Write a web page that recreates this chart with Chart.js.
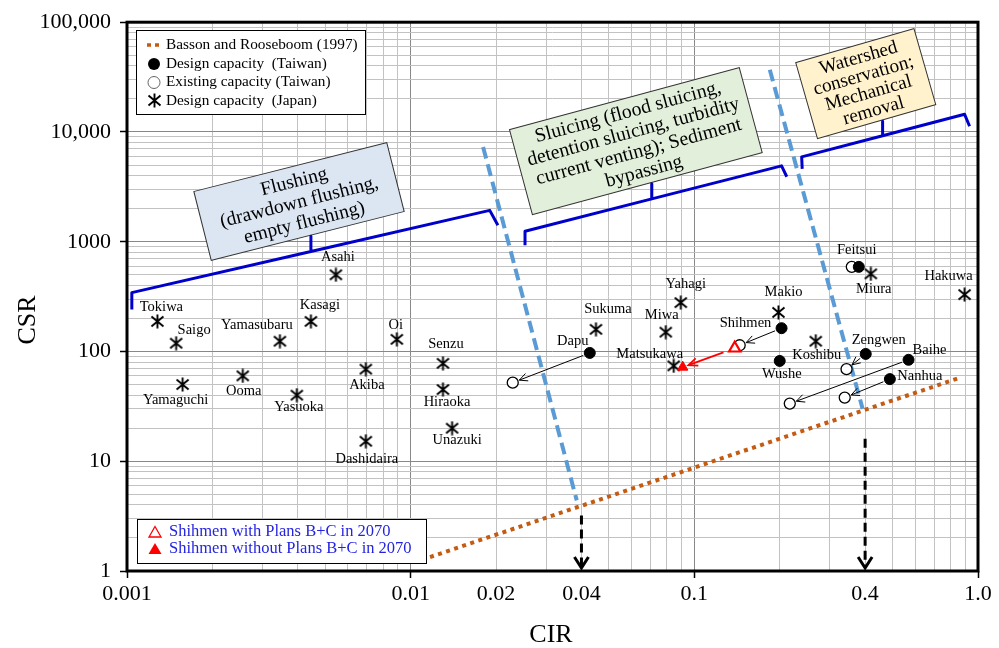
<!DOCTYPE html>
<html>
<head>
<meta charset="utf-8">
<script src="https://cdn.jsdelivr.net/npm/chart.js@4.4.0/dist/chart.umd.min.js"></script>
<style>
  body{margin:0;background:#fff}
</style>
</head>
<body>
<canvas id="c" width="999" height="648"></canvas>
<script>
// ---- data ----
const jpNames = ['Tokiwa','Saigo','Yamaguchi','Ooma','Yamasubaru','Yasuoka','Kasagi','Asahi','Akiba','Dashidaira','Oi','Senzu','Hiraoka','Unazuki','Sukuma','Miwa','Yahagi','Matsukawa','Makio','Koshibu','Miura','Hakuwa'];
const jpCIR = [0.00128,0.00149,0.00157,0.00256,0.00346,0.00397,0.00445,0.00545,0.00695,0.00695,0.00894,0.0130,0.0130,0.0140,0.0450,0.0793,0.0896,0.0846,0.198,0.268,0.419,0.897];
const jpCSR = [188,119,50,60,124,40,188,500,69,15.2,129,78,45,20,159,150,279,74,227,124,510,330];

const twNames = ['Dapu','Shihmen','Wushe','Feitsui','Zengwen','Baihe','Nanhua'];
const twDesignCIR = [0.0428,0.203,0.200,0.380,0.402,0.569,0.489];
const twDesignCSR = [97,163,82,590,95,84,56];
const twExistCIR = [0.0229,0.1445,null,0.359,0.344,0.217,0.339];
const twExistCSR = [52,114,null,590,69,33.5,38];

const shihmen2070CIR = [0.1388,0.091];   // with plans B+C, without plans B+C
const shihmen2070CSR = [107,72];

const bassonCIR = [0.0117,0.86];
const bassonCSR = [1.34,57.5];
const bound1CIR = [0.0180,0.0385];
const bound1CSR = [7300,4.4];
const bound2CIR = [0.1845,0.392];
const bound2CSR = [36900,30];
const cutCIR = [0.04,0.4];
const cutTopCSR = [3.2,16];

const bracketFlushCIR = [0.00104,0.00104,0.00445,0.00445,0.00445,0.0190,0.0203];
const bracketFlushCSR = [241,344,815,1124,815,1930,1413];
const bracketSluiceCIR = [0.0253,0.0253,0.0708,0.0708,0.0708,0.203,0.2118];
const bracketSluiceCSR = [930,1247,2455,3380,2455,4910,3908];
const bracketShedCIR = [0.240,0.239,0.461,0.461,0.461,0.897,0.934];
const bracketShedCSR = [4615,5925,9245,12520,9245,14480,11280];

const xTickLabels = ['0.001','0.01','0.02','0.04','0.1','0.4','1.0'];
const yTickLabels = ['1','10','100','1000','10,000','100,000'];

// ---- styling / placement ----
const SERIF = '"Liberation Serif","Times New Roman",serif';
const labelOffsets = {
  Tokiwa:[4,-14], Saigo:[18,-13], Yamaguchi:[-7,16], Ooma:[1,15], Yamasubaru:[-23,-16], Yasuoka:[2,12],
  Kasagi:[9,-16], Asahi:[2,-18], Akiba:[1,16], Dashidaira:[1,18], Oi:[-1,-14], Senzu:[3,-19],
  Hiraoka:[4,13], Unazuki:[5,12], Sukuma:[12,-20], Miwa:[-4,-17], Yahagi:[5,-18], Matsukawa:[-24,-12],
  Makio:[5,-20], Koshibu:[1,14], Miura:[3,15], Hakuwa:[-16,-18],
  Dapu:[-17,-12], Shihmen:[-36,-5], Wushe:[2,13], Feitsui:[-2,-17], Zengwen:[13,-14], Baihe:[21,-10], Nanhua:[30,-3]
};
const boxes = [
  {cir:0.00404, csr:2325, w:199, h:71, ang:-14.2, fill:'#DCE6F2', lh:21, font:19.5, lines:['Flushing','(drawdown flushing,','empty flushing)']},
  {cir:0.0622, csr:8260, w:238, h:88, ang:-15.1, fill:'#E2EFDA', lh:20.5, font:19.8, lines:['Sluicing (flood sluicing,','detention sluicing, turbidity','current venting); Sediment','bypassing']},
  {cir:0.402, csr:27560, w:123, h:79, ang:-16, fill:'#FFF2CC', lh:18.3, font:19.2, lines:['Watershed','conservation;','Mechanical','removal']}
];

const pts = (xs, ys) => xs.map((x,i)=>({x:x, y:ys[i]})).filter(p=>p.x!=null);
const isDecade = v => Math.abs(Math.log10(v) - Math.round(Math.log10(v))) < 1e-6;
const findLabel = (v, list) => list.find(l => Math.abs(Math.log10(parseFloat(l.replace(/,/g,''))) - Math.log10(v)) < 1e-6) || '';
function logTicks(lo, hi){
  const t=[];
  for(let e=lo;e<hi;e++) for(let m=1;m<10;m++) t.push({value:Number((m*Math.pow(10,e)).toPrecision(3))});
  t.push({value:Math.pow(10,hi)});
  return t;
}

// asterisk marker (X with a vertical bar)
const star = document.createElement('canvas');
star.width=15; star.height=15;
(function(){
  const g=star.getContext('2d'); g.strokeStyle='#000'; g.lineWidth=1.9;
  g.beginPath();
  g.moveTo(7.5,0.5); g.lineTo(7.5,14.5);
  g.moveTo(1.5,2.5); g.lineTo(13.5,12.5);
  g.moveTo(1.5,12.5); g.lineTo(13.5,2.5);
  g.stroke();
})();

function arrow(ctx,x1,y1,x2,y2,color,lw,head,ang){
  ctx.save(); ctx.strokeStyle=color; ctx.lineWidth=lw; ctx.setLineDash([]);
  ctx.beginPath(); ctx.moveTo(x1,y1); ctx.lineTo(x2,y2); ctx.stroke();
  const a=Math.atan2(y2-y1,x2-x1);
  ctx.beginPath();
  ctx.moveTo(x2-head*Math.cos(a-ang), y2-head*Math.sin(a-ang));
  ctx.lineTo(x2,y2);
  ctx.lineTo(x2-head*Math.cos(a+ang), y2-head*Math.sin(a+ang));
  ctx.stroke(); ctx.restore();
}
function shorten(p1,p2,a,b){
  const dx=p2.x-p1.x, dy=p2.y-p1.y, d=Math.hypot(dx,dy);
  return [p1.x+dx/d*a, p1.y+dy/d*a, p2.x-dx/d*b, p2.y-dy/d*b, d];
}

const decor = {
  id:'decor',
  beforeDatasetsDraw(chart){
    const ctx=chart.ctx, xs=chart.scales.x, ys=chart.scales.y;
    boxes.forEach(b=>{
      const cx=xs.getPixelForValue(b.cir), cy=ys.getPixelForValue(b.csr);
      ctx.save(); ctx.translate(cx,cy); ctx.rotate(b.ang*Math.PI/180);
      ctx.fillStyle=b.fill; ctx.fillRect(-b.w/2,-b.h/2,b.w,b.h);
      ctx.strokeStyle='#333'; ctx.lineWidth=1; ctx.strokeRect(-b.w/2,-b.h/2,b.w,b.h);
      ctx.fillStyle='#000'; ctx.font=b.font+'px '+SERIF; ctx.textAlign='center'; ctx.textBaseline='middle';
      b.lines.forEach((t,i)=>ctx.fillText(t,0,(i-(b.lines.length-1)/2)*b.lh+1));
      ctx.restore();
    });
  },
  afterDatasetsDraw(chart){
    const ctx=chart.ctx, xs=chart.scales.x, ys=chart.scales.y, ca=chart.chartArea;
    const px=(x,y)=>({x:xs.getPixelForValue(x), y:ys.getPixelForValue(y)});

    // design -> existing arrows
    twNames.forEach((n,i)=>{
      if(twExistCIR[i]==null) return;
      const s=shorten(px(twDesignCIR[i],twDesignCSR[i]), px(twExistCIR[i],twExistCSR[i]), 7, 7);
      if(s[4]<18) return;
      arrow(ctx,s[0],s[1],s[2],s[3],'#000',1,9,0.45);
    });
    // Shihmen 2070 arrow
    const r=shorten(px(shihmen2070CIR[0],shihmen2070CSR[0]), px(shihmen2070CIR[1],shihmen2070CSR[1]), 12, 6);
    arrow(ctx,r[0],r[1],r[2],r[3],'#FF0000',1.8,10,0.4);

    // cutoff arrows
    cutCIR.forEach((c,i)=>{
      const x=xs.getPixelForValue(c), y0=ys.getPixelForValue(cutTopCSR[i]), y1=ca.bottom-3;
      ctx.save(); ctx.strokeStyle='#000'; ctx.lineWidth=3;
      ctx.setLineDash([9,5]); ctx.beginPath(); ctx.moveTo(x,y0); ctx.lineTo(x,y1-2); ctx.stroke();
      ctx.setLineDash([]); ctx.beginPath();
      ctx.moveTo(x-7,y1-11); ctx.lineTo(x,y1); ctx.lineTo(x+7,y1-11); ctx.stroke();
      ctx.restore();
    });

    // station labels
    ctx.save(); ctx.fillStyle='#000'; ctx.font='14.5px '+SERIF; ctx.textAlign='center'; ctx.textBaseline='middle';
    jpNames.forEach((n,i)=>{ const p=px(jpCIR[i],jpCSR[i]), o=labelOffsets[n]; ctx.fillText(n,p.x+o[0],p.y+o[1]); });
    twNames.forEach((n,i)=>{ const p=px(twDesignCIR[i],twDesignCSR[i]), o=labelOffsets[n]; ctx.fillText(n,p.x+o[0],p.y+o[1]); });
    ctx.restore();

    // upper legend
    const ds=chart.data.datasets;
    ctx.save();
    ctx.fillStyle='#fff'; ctx.fillRect(136.5,30.5,229,84);
    ctx.strokeStyle='#000'; ctx.lineWidth=1; ctx.strokeRect(136.5,30.5,229,84);
    ctx.strokeStyle='#C55A11'; ctx.lineWidth=3.5; ctx.setLineDash([4,4]);
    ctx.beginPath(); ctx.moveTo(147,45); ctx.lineTo(161,45); ctx.stroke(); ctx.setLineDash([]);
    ctx.fillStyle='#000'; ctx.beginPath(); ctx.arc(154,64,6,0,Math.PI*2); ctx.fill();
    ctx.strokeStyle='#666'; ctx.lineWidth=1; ctx.beginPath(); ctx.arc(154,82.5,6,0,Math.PI*2); ctx.stroke();
    ctx.drawImage(star,147,93);
    ctx.font='15.3px '+SERIF; ctx.textBaseline='middle'; ctx.textAlign='left'; ctx.fillStyle='#000';
    ['basson','design','exist','japan'].forEach((k,i)=>{
      const d=ds.find(x=>x.key===k); ctx.fillText(d.label,166,45+i*18.7);
    });
    // lower legend
    ctx.fillStyle='#fff'; ctx.fillRect(137.5,519.5,289,44);
    ctx.strokeStyle='#000'; ctx.strokeRect(137.5,519.5,289,44);
    ctx.strokeStyle='#FF0000'; ctx.lineWidth=1.3;
    ctx.beginPath(); ctx.moveTo(155,526.5); ctx.lineTo(161,537); ctx.lineTo(149,537); ctx.closePath(); ctx.stroke();
    ctx.fillStyle='#FF0000';
    ctx.beginPath(); ctx.moveTo(155,543); ctx.lineTo(161.5,554); ctx.lineTo(148.5,554); ctx.closePath(); ctx.fill();
    ctx.fillStyle='#2424E0'; ctx.font='16.5px '+SERIF;
    ['with2070','without2070'].forEach((k,i)=>{
      const d=ds.find(x=>x.key===k); ctx.fillText(d.label,169,532+i*17);
    });
    ctx.restore();
  },
  afterDraw(chart){
    const ctx=chart.ctx, ca=chart.chartArea;
    ctx.save();
    ctx.strokeStyle='#000'; ctx.lineWidth=3;
    ctx.strokeRect(ca.left,ca.top,ca.right-ca.left,ca.bottom-ca.top);
    ctx.fillStyle='#000'; ctx.font='26px '+SERIF; ctx.textAlign='center'; ctx.textBaseline='middle';
    ctx.fillText('CIR',551,635);
    ctx.translate(28,320); ctx.rotate(-Math.PI/2); ctx.fillText('CSR',0,0);
    ctx.restore();
  }
};

const lineDs = (key,label,xs,ys,color,width,dash,order) => ({
  key, label, data:pts(xs,ys), showLine:true, borderColor:color, borderWidth:width, borderDash:dash,
  pointRadius:0, fill:false, order, borderJoinStyle:'round', borderCapStyle:'butt'
});

new Chart(document.getElementById('c'), {
  type:'scatter',
  data:{datasets:[
    {key:'with2070', label:'Shihmen with Plans B+C in 2070', data:[{x:shihmen2070CIR[0],y:shihmen2070CSR[0]}],
      pointStyle:'triangle', pointRadius:6.5, backgroundColor:'#fff', borderColor:'#FF0000', borderWidth:2.2, order:1},
    {key:'without2070', label:'Shihmen without Plans B+C in 2070', data:[{x:shihmen2070CIR[1],y:shihmen2070CSR[1]}],
      pointStyle:'triangle', pointRadius:6, backgroundColor:'#FF0000', borderColor:'#FF0000', borderWidth:1, order:1},
    {key:'design', label:'Design capacity  (Taiwan)', data:pts(twDesignCIR,twDesignCSR),
      pointRadius:5.5, backgroundColor:'#000', borderColor:'#000', borderWidth:1, order:2},
    {key:'exist', label:'Existing capacity (Taiwan)', data:pts(twExistCIR,twExistCSR),
      pointRadius:5.5, backgroundColor:'#fff', borderColor:'#000', borderWidth:1.3, order:3},
    {key:'japan', label:'Design capacity  (Japan)', data:pts(jpCIR,jpCSR),
      pointStyle:star, order:2},
    lineDs('basson','Basson and Rooseboom (1997)',bassonCIR,bassonCSR,'#C55A11',4,[4,4.5],5),
    lineDs('bound1','',bound1CIR,bound1CSR,'#5B9BD5',4,[12,6],6),
    lineDs('bound2','',bound2CIR,bound2CSR,'#5B9BD5',4,[12,6],6),
    lineDs('brFlush','',bracketFlushCIR,bracketFlushCSR,'#0000CC',3,[],7),
    lineDs('brSluice','',bracketSluiceCIR,bracketSluiceCSR,'#0000CC',3,[],7),
    lineDs('brShed','',bracketShedCIR,bracketShedCSR,'#0000CC',3,[],7)
  ]},
  options:{
    responsive:false, animation:false, devicePixelRatio:1,
    layout:{padding:{left:0,right:21,top:17,bottom:0}},
    plugins:{legend:{display:false}, tooltip:{enabled:false}},
    scales:{
      x:{
        type:'logarithmic', min:0.001, max:1,
        afterBuildTicks:s=>{ s.ticks=logTicks(-3,0); },
        afterFit:s=>{ s.height=77; },
        border:{display:false},
        grid:{
          color:c=>isDecade(c.tick.value)?'#888':'#c2c2c2', lineWidth:1,
          tickLength:7, tickColor:c=>isDecade(c.tick.value)?'#000':'rgba(0,0,0,0)', tickWidth:1.5
        },
        ticks:{autoSkip:false, maxRotation:0, padding:3, color:'#000', font:{family:SERIF,size:22},
          callback:v=>findLabel(v,xTickLabels)}
      },
      y:{
        type:'logarithmic', min:1, max:100000,
        afterBuildTicks:s=>{ s.ticks=logTicks(0,5); },
        afterFit:s=>{ s.width=127; },
        border:{display:false},
        grid:{
          color:c=>isDecade(c.tick.value)?'#888':'#c2c2c2', lineWidth:1,
          tickLength:7, tickColor:c=>isDecade(c.tick.value)?'#000':'rgba(0,0,0,0)', tickWidth:1.5
        },
        ticks:{autoSkip:false, padding:9, color:'#000', font:{family:SERIF,size:22},
          callback:v=>findLabel(v,yTickLabels)}
      }
    }
  },
  plugins:[decor]
});
</script>
</body>
</html>
